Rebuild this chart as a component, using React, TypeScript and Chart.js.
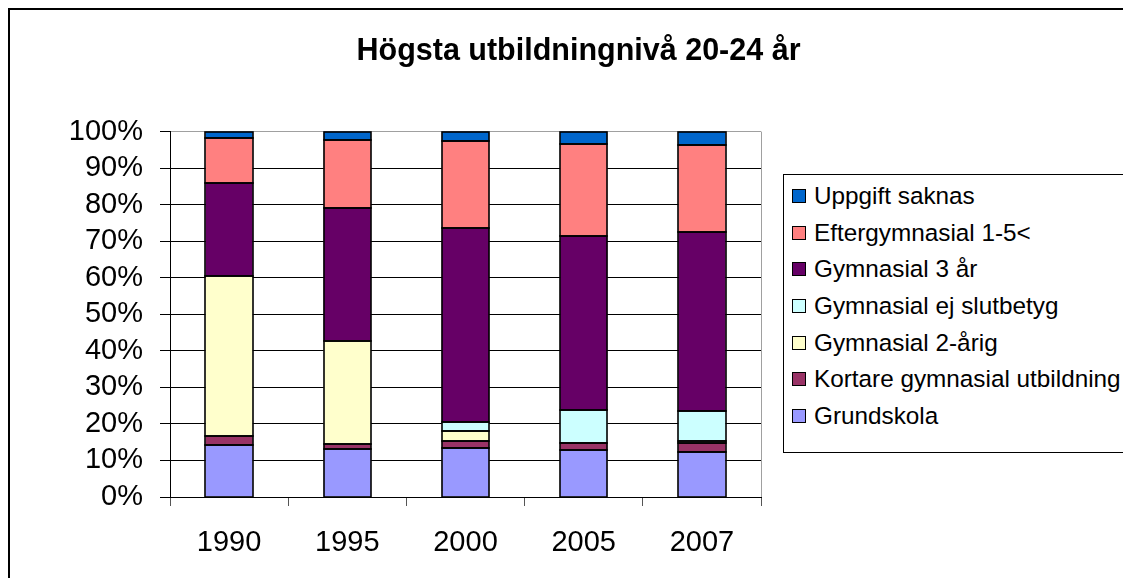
import React, { useEffect, useRef } from "react";
import { Chart, registerables } from "chart.js";

Chart.register(...registerables);

const titleText = "Högsta utbildningnivå 20-24 år";
const years = ["1990", "1995", "2000", "2005", "2007"];

// Stack order: bottom to top
const seriesNames = [
  "Grundskola",
  "Kortare gymnasial utbildning",
  "Gymnasial 2-årig",
  "Gymnasial ej slutbetyg",
  "Gymnasial 3 år",
  "Eftergymnasial 1-5<",
  "Uppgift saknas",
];
const grundskola = [14.3, 13.2, 13.3, 12.9, 12.3];
const kortareGymnasial = [2.3, 1.2, 2.0, 2.0, 2.5];
const gymnasial2arig = [43.8, 28.4, 2.7, 0, 0.5];
const gymnasialEjSlutbetyg = [0, 0, 2.6, 8.8, 8.2];
const gymnasial3ar = [25.5, 36.4, 52.9, 47.7, 49.0];
const eftergymnasial = [12.3, 18.5, 23.8, 25.3, 23.7];
const uppgiftSaknas = [1.8, 2.3, 2.7, 3.3, 3.8];
const seriesValues = [
  grundskola,
  kortareGymnasial,
  gymnasial2arig,
  gymnasialEjSlutbetyg,
  gymnasial3ar,
  eftergymnasial,
  uppgiftSaknas,
];
const seriesColors = ["#9999FF", "#993366", "#FFFFCC", "#CCFFFF", "#660066", "#FF8080", "#0066CC"];
const yTickValues = [0, 10, 20, 30, 40, 50, 60, 70, 80, 90, 100];

const FONT = "'Liberation Sans', Arial, Helvetica, sans-serif";
const CW = 1137;
const CH = 568;
const AREA_LEFT = 160;
const AREA_RIGHT = 751;
const AREA_BOTTOM = 487;

const framePlugin = {
  id: "frame",
  beforeDatasetsDraw(chart: any) {
    const { ctx, chartArea } = chart;
    ctx.save();
    ctx.strokeStyle = "#a0a0a0";
    ctx.lineWidth = 1;
    ctx.beginPath();
    ctx.moveTo(Math.round(chartArea.right) + 0.5, chartArea.top);
    ctx.lineTo(Math.round(chartArea.right) + 0.5, chartArea.bottom);
    ctx.stroke();
    ctx.restore();
  },
};

// Black outline around every bar segment (Excel style, centered on the edge)
const outlinePlugin = {
  id: "barOutline",
  afterDatasetsDraw(chart: any) {
    const { ctx } = chart;
    ctx.save();
    ctx.strokeStyle = "#000000";
    ctx.lineWidth = 1.6;
    chart.data.datasets.forEach((_: any, di: number) => {
      const meta = chart.getDatasetMeta(di);
      if (meta.hidden) return;
      meta.data.forEach((bar: any) => {
        const { x, y, base, width } = bar.getProps(["x", "y", "base", "width"], true);
        if (Math.abs(base - y) < 0.05) return;
        const l = Math.round(x - width / 2);
        const r = Math.round(x + width / 2);
        const t = Math.round(Math.min(y, base));
        const b = Math.round(Math.max(y, base));
        ctx.strokeRect(l, t, r - l, b - t);
      });
    });
    ctx.restore();
  },
};

export default function App() {
  const canvasRef = useRef<HTMLCanvasElement | null>(null);

  useEffect(() => {
    document.documentElement.style.overflow = "hidden";
    document.body.style.overflow = "hidden";
    const canvas = canvasRef.current;
    if (!canvas) return;
    const chart = new Chart(canvas, {
      type: "bar",
      data: {
        labels: years,
        datasets: seriesNames.map((name, i) => ({
          label: name,
          data: seriesValues[i],
          backgroundColor: seriesColors[i],
          borderWidth: 0,
          inflateAmount: 0,
          barPercentage: 0.5,
          categoryPercentage: 0.8,
        })),
      },
      options: {
        responsive: false,
        animation: false,
        layout: { padding: 0 },
        plugins: {
          legend: { display: false },
          tooltip: { enabled: false },
          title: {
            display: true,
            text: titleText,
            color: "#000000",
            font: { family: FONT, size: 30.5, weight: "bold" },
            padding: { top: 23, bottom: 62 },
          },
        },
        scales: {
          x: {
            stacked: true,
            offset: true,
            grid: {
              offset: true,
              drawOnChartArea: false,
              tickLength: 9,
              tickColor: "#555555",
            },
            border: { color: "#000000", width: 1 },
            ticks: {
              color: "#000000",
              font: { family: FONT, size: 29 },
              padding: 20,
              maxRotation: 0,
            },
            afterFit: (s: any) => {
              s.height = CH - AREA_BOTTOM;
            },
          },
          y: {
            stacked: true,
            min: 0,
            max: 100,
            afterBuildTicks: (s: any) => {
              s.ticks = yTickValues.map((v) => ({ value: v }));
            },
            grid: {
              color: (c: any) => (c.tick && c.tick.value === 100 ? "#a0a0a0" : "#000000"),
              tickColor: "#000000",
              tickLength: 10,
              lineWidth: 1,
            },
            border: { color: "#000000", width: 1 },
            ticks: {
              color: "#000000",
              font: { family: FONT, size: 29 },
              padding: 17,
              autoSkip: false,
              stepSize: 10,
              callback: (v: any) => v + "%",
            },
            afterFit: (s: any) => {
              s.width = AREA_LEFT;
            },
          },
          yRight: {
            position: "right",
            display: true,
            min: 0,
            max: 100,
            grid: { display: false, drawTicks: false },
            border: { display: false },
            ticks: { display: false },
            afterFit: (s: any) => {
              s.width = CW - AREA_RIGHT;
            },
          },
        },
      },
      plugins: [framePlugin, outlinePlugin],
    } as any);
    return () => chart.destroy();
  }, []);

  const legendOrder = seriesNames.map((_, i) => i).reverse();

  return (
    <div
      style={{
        position: "relative",
        width: 1123,
        height: 570,
        borderLeft: "2px solid #000",
        borderTop: "2px solid #000",
        overflow: "hidden",
        boxSizing: "border-box",
        background: "#fff",
      }}
    >
      <canvas
        ref={canvasRef}
        width={CW}
        height={CH}
        style={{ position: "absolute", left: 0, top: 0, width: CW, height: CH, display: "block" }}
      />
      <div
        style={{
          position: "absolute",
          left: 773,
          top: 164,
          width: 400,
          height: 279,
          border: "1px solid #000",
          boxSizing: "border-box",
          background: "#fff",
        }}
      />
      {legendOrder.map((si, row) => {
        const cy = 186 + row * 36.67;
        return (
          <div
            key={seriesNames[si]}
            style={{
              position: "absolute",
              left: 782,
              top: cy - 15,
              height: 30,
              display: "flex",
              alignItems: "center",
              whiteSpace: "nowrap",
              fontFamily: FONT,
              fontSize: 24.3,
              color: "#000",
            }}
          >
            <span
              style={{
                display: "inline-block",
                width: 14,
                height: 14,
                boxSizing: "border-box",
                border: "1px solid #000",
                background: seriesColors[si],
                marginRight: 8,
              }}
            />
            <span style={{ lineHeight: "30px" }}>{seriesNames[si]}</span>
          </div>
        );
      })}
    </div>
  );
}
